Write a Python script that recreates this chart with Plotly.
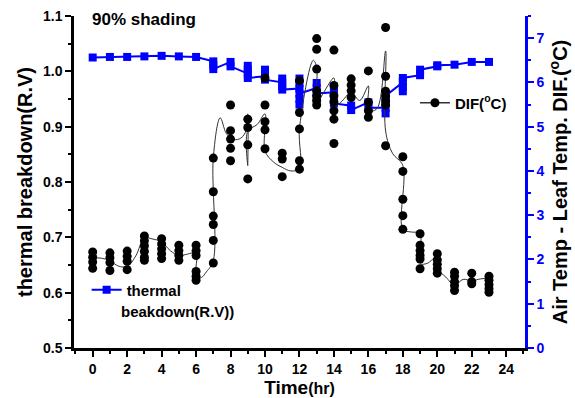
import plotly.graph_objects as go

# ---------------- data ----------------
hours = list(range(24))

# DIF (Air temp - Leaf temp, deg C) individual readings for each hour (right axis)
dif_by_hour = [
    [2.17, 2.05, 1.94, 1.80],
    [2.15, 2.04, 1.93, 1.75],
    [2.19, 2.07, 1.96, 1.77],
    [2.53, 2.42, 2.31, 2.18, 2.05, 1.98],
    [2.47, 2.35, 2.24, 2.13, 2.02],
    [2.32, 2.20, 2.09, 1.98],
    [2.32, 2.20, 2.09, 1.73, 1.62, 1.53],
    [4.29, 3.53, 2.98, 2.79, 2.43, 1.92],
    [5.49, 4.91, 4.72, 4.51, 4.23],
    [5.17, 4.98, 4.59, 3.82],
    [6.10, 5.49, 5.11, 4.93, 4.50],
    [4.40, 4.27, 3.87],
    [6.04, 5.32, 4.95, 4.23, 4.04],
    [6.99, 6.75, 6.30, 5.81, 5.70, 5.59, 5.49],
    [6.73, 5.93, 5.70, 5.56, 5.36, 5.17, 4.62],
    [6.08, 5.94, 5.81, 5.66],
    [6.26, 5.55, 5.36, 5.21],
    [7.24, 6.14, 5.80, 5.69, 5.58, 5.49, 4.57],
    [4.32, 3.99, 3.36, 2.99, 2.68],
    [2.58, 2.32, 2.20, 2.09, 2.01, 1.79],
    [2.13, 1.99, 1.89, 1.79, 1.69],
    [1.71, 1.62, 1.50, 1.41, 1.30],
    [1.69, 1.50, 1.45],
    [1.62, 1.53, 1.43, 1.34, 1.26],
]

# smoothed DIF curve as traced on the picture (hour, deg C)
curve_hour = [0, 0.5, 1, 1.5, 2, 2.5, 3, 3.5, 4, 4.5, 5, 5.5, 6, 6, 6.25, 6.6, 7, 7,
              7.4, 7.75, 8.1, 8.5, 8.85, 9, 9, 9, 9.55, 10, 10, 10.5, 11, 11.5, 12, 12,
              12.8, 13, 13, 13.4, 14, 14, 14.4, 15, 15.5, 16, 16, 16.5, 17, 17, 17.4,
              18, 18, 18.5, 19, 19, 19.4, 20, 20, 20.5, 21, 21.5, 22, 22.5, 23]
curve_dif = [2.03, 2.03, 1.97, 1.85, 1.84, 2.08, 2.48, 2.46, 2.40, 2.20, 2.09, 2.12, 2.15, 1.64,
             1.58, 1.72, 1.98, 4.30, 5.20, 4.85, 4.72, 4.72, 4.86, 5.29, 4.12, 4.90, 5.05,
             5.29, 4.45, 4.20, 4.08, 4.00, 4.05, 4.95, 6.50, 6.34, 5.52, 5.77, 6.10, 5.45,
             5.55, 5.77, 5.59, 5.92, 5.36, 5.41, 6.71, 4.90, 4.40, 4.12, 2.68, 2.62, 2.59,
             1.91, 1.91, 2.07, 1.80, 1.60, 1.42, 1.55, 1.52, 1.56, 1.58]

# thermal breakdown (R.V) readings for each hour (left axis)
tb_by_hour = [
    [1.025], [1.026], [1.026], [1.027], [1.028], [1.027], [1.026],
    [1.018, 1.011, 1.004],
    [1.017, 1.009],
    [0.996, 1.010, 1.003, 0.988],
    [0.991, 1.003, 0.997, 0.985],
    [0.980, 0.987, 0.973, 0.967],
    [0.969, 0.987, 0.978, 0.940, 0.950, 0.960],
    [0.970, 0.979, 0.951, 0.960],
    [0.962, 0.972, 0.952, 0.942],
    [0.938, 0.930],
    [0.944, 0.934],
    [0.934, 0.924, 0.945, 0.956],
    [0.980, 0.964, 0.972, 0.988],
    [0.993, 1.003],
    [1.009, 1.011],
    [1.012], [1.017], [1.017],
]

x_ticks = [0, 2, 4, 6, 8, 10, 12, 14, 16, 18, 20, 22, 24]
y_left_ticks = [0.5, 0.6, 0.7, 0.8, 0.9, 1.0, 1.1]
y_right_ticks = [0, 1, 2, 3, 4, 5, 6, 7]

# ---------------- figure ----------------
FONT = "Liberation Sans, Arial, sans-serif"
BLUE = "#0000FF"

dif_x = [h for h, vals in zip(hours, dif_by_hour) for _ in vals]
dif_y = [v for vals in dif_by_hour for v in vals]
tb_x = [h for h, vals in zip(hours, tb_by_hour) for _ in vals]
tb_y = [v for vals in tb_by_hour for v in vals]

fig = go.Figure()
fig.add_trace(go.Scatter(
    x=tb_x, y=tb_y, mode="lines+markers", name="thermal", yaxis="y",
    line=dict(color=BLUE, width=2),
    marker=dict(symbol="square", size=8, color=BLUE),
    legend="legend2"))
fig.add_trace(go.Scatter(
    x=curve_hour, y=curve_dif, mode="lines", yaxis="y2", showlegend=False,
    line=dict(color="#333333", width=1, shape="spline", smoothing=1)))
fig.add_trace(go.Scatter(
    x=dif_x, y=dif_y, mode="markers", yaxis="y2", showlegend=False,
    marker=dict(color="black", size=9)))
fig.add_trace(go.Scatter(
    x=[None], y=[None], mode="lines+markers", yaxis="y2", name="DIF(<sup>o</sup>C)",
    line=dict(color="#333333", width=1.5), marker=dict(color="black", size=9),
    legend="legend"))

tick_font = dict(family=FONT, size=14, color="black", weight="bold")

fig.update_layout(
    width=575, height=398,
    margin=dict(l=74, r=50, t=16, b=50, autoexpand=False),
    paper_bgcolor="white", plot_bgcolor="white",
    font=dict(family=FONT, color="black"),
    xaxis=dict(
        range=[-1.085, 25.09], tickmode="array", tickvals=x_ticks,
        ticks="outside", ticklen=6, tickwidth=2, tickcolor="black",
        showline=True, linecolor="black", linewidth=2.5, mirror=False,
        showgrid=False, zeroline=False, tickfont=tick_font,
        minor=dict(tick0=0, dtick=1, ticks="outside", ticklen=3, tickwidth=2,
                   tickcolor="black", showgrid=False),
        title=dict(text="<b>Time</b><b style='font-size:16px'>(hr)</b>",
                   font=dict(family=FONT, size=19, color="black"), standoff=4),
    ),
    yaxis=dict(
        range=[0.5, 1.1], tickmode="array", tickvals=y_left_ticks,
        ticktext=[f"{v:.1f}" for v in y_left_ticks],
        ticks="outside", ticklen=6, tickwidth=2, tickcolor="black",
        showline=True, linecolor="black", linewidth=2.5,
        showgrid=False, zeroline=False, tickfont=tick_font,
        minor=dict(tick0=0.5, dtick=0.05, ticks="outside", ticklen=3, tickwidth=2,
                   tickcolor="black", showgrid=False),
        title=dict(text="<b>thermal breakdown(R.V)</b>",
                   font=dict(family=FONT, size=20, color="black"), standoff=5),
    ),
    yaxis2=dict(
        overlaying="y", side="right", anchor="x",
        range=[0, 7.5], tickmode="array", tickvals=y_right_ticks,
        ticks="outside", ticklen=6, tickwidth=2, tickcolor=BLUE,
        showline=True, linecolor=BLUE, linewidth=2.5,
        showgrid=False, zeroline=False,
        tickfont=dict(family=FONT, size=14, color=BLUE, weight="bold"),
        minor=dict(tick0=0, dtick=0.5, ticks="outside", ticklen=3, tickwidth=2,
                   tickcolor=BLUE, showgrid=False),
        title=dict(text="<b>Air Temp - Leaf Temp. DIF.(<sup>o</sup>C)</b>",
                   font=dict(family=FONT, size=20, color="black"), standoff=10),
    ),
    legend=dict(x=0.756, y=0.738, xanchor="left", yanchor="middle",
                bgcolor="rgba(0,0,0,0)", borderwidth=0,
                font=dict(family=FONT, size=15, color="black", weight="bold")),
    legend2=dict(x=0.028, y=0.175, xanchor="left", yanchor="middle",
                 bgcolor="rgba(0,0,0,0)", borderwidth=0,
                 font=dict(family=FONT, size=15, color="black", weight="bold")),
    annotations=[
        dict(text="<b>90% shading</b>", xref="paper", yref="paper",
             x=0.035, y=0.988, xanchor="left", yanchor="middle", showarrow=False,
             font=dict(family=FONT, size=17, color="black")),
        dict(text="<b>beakdown(R.V))</b>", xref="paper", yref="paper",
             x=0.1, y=0.111, xanchor="left", yanchor="middle", showarrow=False,
             font=dict(family=FONT, size=15, color="black")),
    ],
)

fig.write_html("out.html")
